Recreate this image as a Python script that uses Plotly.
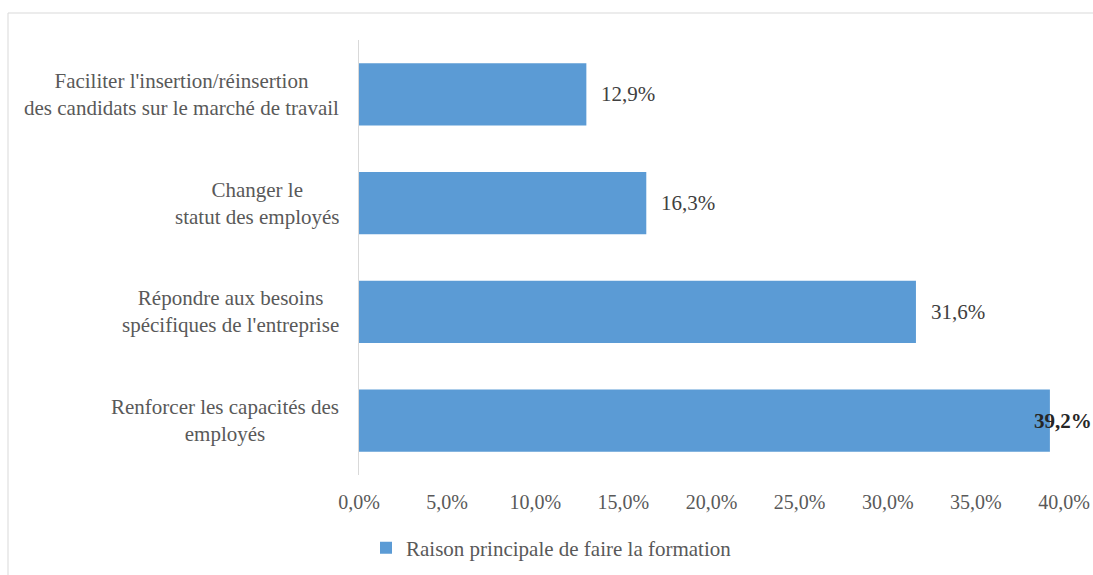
import plotly.graph_objects as go

categories = [
    "Renforcer les capacités des<br>employés",
    "Répondre aux besoins<br>spécifiques de l'entreprise",
    "Changer le<br>statut des employés",
    "Faciliter l'insertion/réinsertion<br>des candidats sur le marché de travail",
]
values = [39.2, 31.6, 16.3, 12.9]
series_name = "Raison principale de faire la formation"
tick_vals = [0, 5, 10, 15, 20, 25, 30, 35, 40]
tick_text = ["0,0%", "5,0%", "10,0%", "15,0%", "20,0%", "25,0%", "30,0%", "35,0%", "40,0%"]

W, H = 1093, 575
ML, MR, MT, MB = 359, 29, 40, 100
PW, PH = W - ML - MR, H - MT - MB

FONT = "Liberation Serif"
GREY = "#595959"
BLUE = "#5B9BD5"

mx = max(values)

fig = go.Figure()
fig.add_trace(go.Bar(
    y=categories, x=values, orientation="h",
    name=series_name,
    marker=dict(color=BLUE, line=dict(width=0)),
    hoverinfo="skip", showlegend=True,
))

annotations = []
for c in categories:
    annotations.append(dict(
        x=0, xref="paper", y=c, yref="y", xanchor="right", yanchor="middle",
        xshift=-18, text=c, align="center", showarrow=False,
        font=dict(family=FONT, size=21, color=GREY),
    ))
for c, v in zip(categories, values):
    s = f"{v:.1f}".replace(".", ",") + "%"
    is_max = v == mx
    annotations.append(dict(
        x=v, xref="x", y=c, yref="y", xanchor="left", yanchor="middle",
        xshift=-18 if is_max else 13,
        text=f"<b>{s}</b>" if is_max else s, showarrow=False,
        font=dict(family=FONT, size=21, color="#262626" if is_max else "#404040"),
    ))

def px_x(p):
    return (p - ML) / PW

def px_y(p):
    return (H - MB - p) / PH

shapes = [
    dict(type="line", xref="paper", yref="paper", x0=px_x(8), x1=px_x(W + 20),
         y0=px_y(13), y1=px_y(13), line=dict(color="#D9D9D9", width=1)),
    dict(type="line", xref="paper", yref="paper", x0=px_x(8), x1=px_x(8),
         y0=px_y(13), y1=px_y(H + 20), line=dict(color="#D9D9D9", width=1)),
]

fig.update_layout(
    width=W, height=H,
    margin=dict(l=ML, r=MR, t=MT, b=MB, autoexpand=False),
    paper_bgcolor="white", plot_bgcolor="white",
    bargap=0.426,
    font=dict(family=FONT, size=21, color=GREY),
    xaxis=dict(range=[0, 40], tickvals=tick_vals, ticktext=tick_text,
               showgrid=False, zeroline=False, showline=False, ticks="",
               tickfont=dict(family=FONT, size=20, color=GREY),
               ticklabelstandoff=13, fixedrange=True),
    yaxis=dict(type="category", categoryorder="array", categoryarray=categories,
               range=[-0.5, 3.5], showticklabels=False, showgrid=False,
               zeroline=False, showline=True, linecolor="#D9D9D9", linewidth=1,
               ticks="", fixedrange=True),
    legend=dict(orientation="h", x=px_x(366), xanchor="left",
                y=px_y(548), yanchor="middle",
                font=dict(family=FONT, size=21, color=GREY),
                bgcolor="rgba(0,0,0,0)"),
    annotations=annotations,
    shapes=shapes,
    showlegend=True,
)

fig.write_html("out.html", config={"displayModeBar": False},
               post_script="document.body.style.margin='0';")
